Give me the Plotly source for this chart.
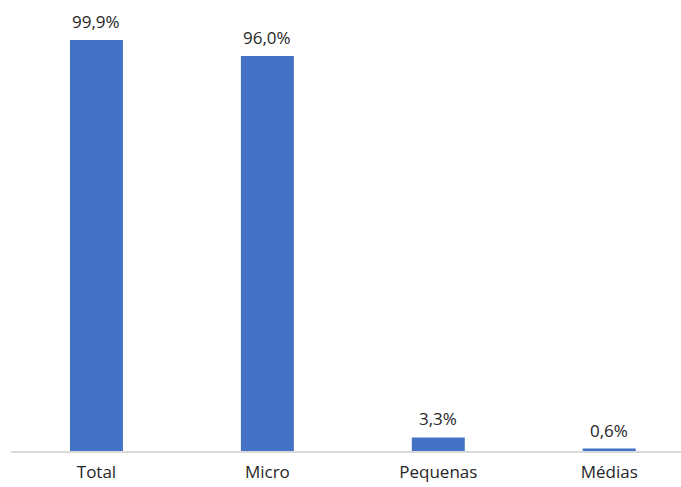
import plotly.graph_objects as go

categorias = ["Total", "Micro", "Pequenas", "Médias"]
participacao = [99.9, 96.0, 3.3, 0.6]
rotulos = ["99,9%", "96,0%", "3,3%", "0,6%"]

FONTE = "Open Sans, Liberation Sans, sans-serif"
COR_TEXTO = "#262626"

fig = go.Figure(
    go.Bar(
        x=categorias,
        y=participacao,
        marker=dict(color="#4472C4", line=dict(width=0)),
        width=0.31,
        cliponaxis=False,
        hoverinfo="skip",
    )
)

# rótulos de valor acima de cada barra
for cat, val, rot in zip(categorias, participacao, rotulos):
    fig.add_annotation(
        x=cat, y=val, text=rot, showarrow=False,
        yanchor="bottom", yshift=5,
        font=dict(family=FONTE, size=17, color=COR_TEXTO),
    )

fig.update_layout(
    width=681,
    height=487,
    margin=dict(l=11, r=0, t=0, b=36),
    paper_bgcolor="white",
    plot_bgcolor="white",
    showlegend=False,
    font=dict(family=FONTE, size=17, color=COR_TEXTO),
    xaxis=dict(
        type="category",
        range=[-0.5, 3.42],
        showline=True,
        linecolor="#D9D9D9",
        linewidth=1.5,
        showgrid=False,
        ticks="",
        ticklabelstandoff=5,
        tickfont=dict(size=17, color=COR_TEXTO),
        fixedrange=True,
    ),
    yaxis=dict(
        range=[0, 109.6],
        visible=False,
        showgrid=False,
        zeroline=False,
        fixedrange=True,
    ),
)

fig.write_html("out.html")
